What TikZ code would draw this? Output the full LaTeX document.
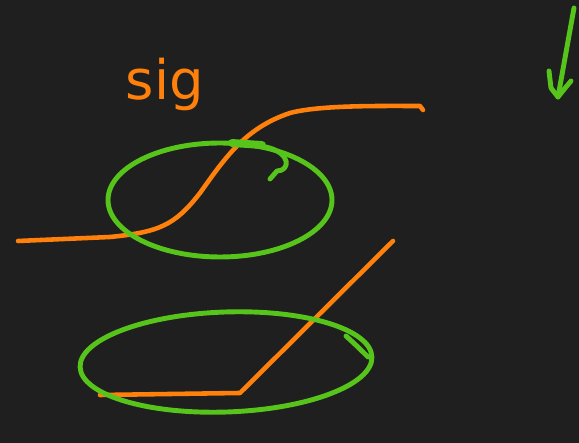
\documentclass[tikz,border=0pt]{standalone}
\usepackage{fontspec}
\setsansfont{DejaVu Sans}
\definecolor{boardgray}{RGB}{31,31,31}
\definecolor{penorange}{RGB}{255,128,10}
\definecolor{pengreen}{RGB}{86,196,26}

\begin{document}
\begin{tikzpicture}[x=0.02cm, y=0.02cm,
    orangepen/.style={draw=penorange, line width=2.6pt, line cap=round, line join=round},
    greenpen/.style={draw=pengreen, line width=2.8pt, line cap=round, line join=round}]
    \fill[boardgray] (0,0) rectangle (579,443);
    % label
    \node[text=penorange, font=\sffamily\fontsize{31}{31}\selectfont, anchor=base] (siglabel) at (165,343) {sig};
    % sigmoid curve
    \draw[orangepen] (18,202) -- (110,206) .. controls (160,211) and (175,218) .. (200,250)
        .. controls (225,285) and (245,315) .. (290,330) .. controls (320,338) and (380,337) .. (420,337) -- (423,333);
    \draw[greenpen] (220,243) ellipse (112 and 57);
    \draw[greenpen, line width=4.5pt] (232,300) -- (262,298);
    \draw[greenpen] (266,296) .. controls (292,290) and (290,272) .. (277,272) -- (270,264);
    % relu
    \draw[orangepen] (100,48) -- (240,50) -- (393,202);
    \draw[greenpen, rotate around={2:(226,81)}] (226,81) ellipse (146 and 50);
    \draw[greenpen] (346,107) .. controls (356,98) and (362,92) .. (368,86);
    % arrow
    \draw[greenpen] (574,435) -- (558,346);
    \draw[greenpen] (549,372) -- (551,355) -- (558,346) -- (566,356) -- (571,362);
\end{tikzpicture}
\end{document}
